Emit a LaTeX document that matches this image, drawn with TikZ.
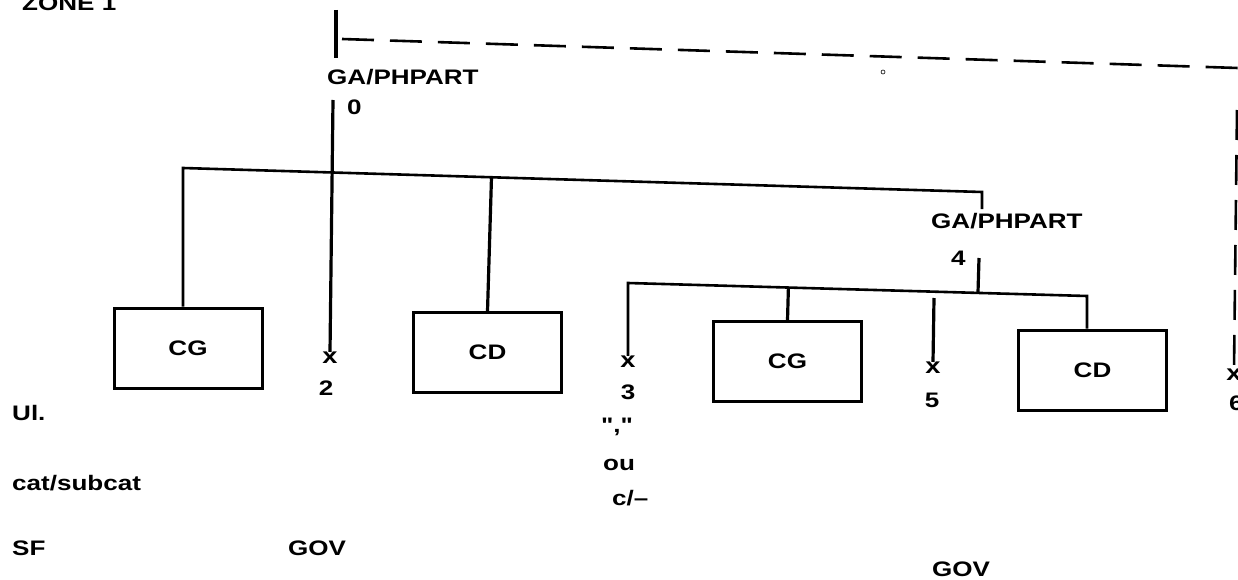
\documentclass[tikz,border=0pt]{standalone}
\usepackage{fontspec}
\newfontfamily\lf{Liberation Sans Bold}[FakeStretch=1.24]
\usetikzlibrary{calc}
\tikzset{
  lab/.style={inner sep=0pt, font=\lf\fontsize{21}{24}\selectfont},
  box/.style={draw, line width=3pt, minimum width=148pt, minimum height=80pt, inner sep=0pt, font=\lf\fontsize{21}{24}\selectfont},
  xm/.style={inner sep=0pt, font=\lf\fontsize{22}{24}\selectfont},
  stem/.style={line width=3.2pt},
  bar/.style={line width=2.6pt},
  dsh/.style={line width=2.6pt, dash pattern=on 32pt off 16pt},
}
\begin{document}
\begin{tikzpicture}[x=1pt,y=-1pt]
\useasboundingbox (0,0) rectangle (1238,580);
% labels
\node[lab, anchor=base west] (zone) at (22,11) {ZONE 1};
\node[lab, anchor=base west] (ga1) at (327,85) {GA/PHPART};
\node[lab, anchor=base west] (n0) at (347,115) {0};
\node[lab, anchor=base west] (ga2) at (931,228) {GA/PHPART};
\node[lab, anchor=base west] (n4) at (951,265) {4};
% boxes
\node[box] (cg1) at (188,348) {CG};
\node[box] (cd1) at (487.5,352.5) {CD};
\node[box] (cg2) at (787.5,361.5) {CG};
\node[box] (cd2) at (1092.5,370) {CD};
% x marks and numbers
\node[xm] (x2) at (330,358) {x};
\node[xm] (x3) at (628,362) {x};
\node[xm] (x5) at (933,368) {x};
\node[xm] (x6) at (1234,375) {x};
\node[lab, anchor=base] (n2) at (326,395) {2};
\node[lab, anchor=base] (n3) at (628,399) {3};
\node[lab, anchor=base] (n5) at (932,407) {5};
\node[lab, anchor=base west] (n6) at (1229,410) {6};
\node[lab, anchor=base] (q3) at (617,432) {","};
\node[lab, anchor=base west] (ou) at (603,470) {ou};
\node[lab, anchor=base west] (c3) at (612,505) {c/–};
% left column labels
\node[lab, anchor=base west] (ul) at (12,420) {Ul.};
\node[lab, anchor=base west] (cat) at (12,490) {cat/subcat};
\node[lab, anchor=base west] (sf) at (12,555) {SF};
\node[lab, anchor=base west] (gov1) at (288,555) {GOV};
\node[lab, anchor=base west] (gov2) at (932,576) {GOV};
% coordinates
\coordinate (top0a) at (336,10);
\coordinate (top0b) at (336,58);
\coordinate (d0) at (342,39);
\coordinate (d1) at (1238,68);
\coordinate (l0) at (333,100);
\coordinate (h1a) at (183,168);
\coordinate (h1b) at (982,192);
\coordinate (t4) at (982,209);
\coordinate (l4) at (979,258);
\coordinate (h2a) at (628,283);
\coordinate (h2b) at (1087,296);
\coordinate (l5) at (934,298);
\coordinate (l6) at (1237,110);
% zone 1 top
\draw[stem] (top0a) -- (top0b);
\draw[dsh] (d0) -- (d1);
\draw[line width=0.6pt] (883,72) circle (2pt);
% upper tree
\draw[stem] (l0) -- (x2.north);
\draw[bar] (h1a |- cg1.north) -- (h1a) -- (h1b) -- (t4);
\draw[stem] (cd1.north) -- ($(h1a)!(cd1.north)!(h1b)$);
% lower tree
\draw[stem] (l4) -- ($(h2a)!(l4)!(h2b)$);
\draw[bar] (x3.north) -- (h2a) -- (h2b) -- (h2b |- cd2.north);
\draw[stem] (cg2.north) -- ($(h2a)!(cg2.north)!(h2b)$);
\draw[stem] (l5) -- (x5.north);
\draw[dsh, dash pattern=on 30pt off 15pt] (l6) -- (x6.north);
\end{tikzpicture}
\end{document}
